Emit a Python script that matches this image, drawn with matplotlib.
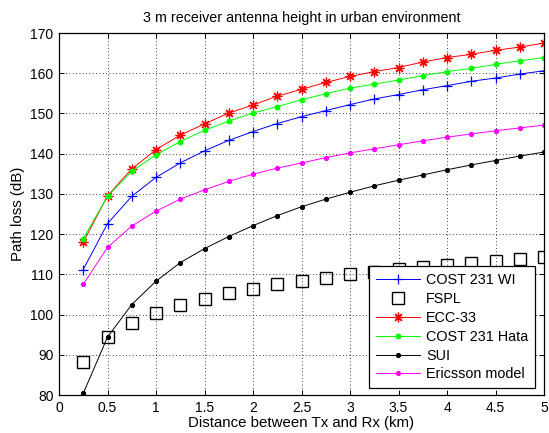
import matplotlib
matplotlib.use("Agg")
import matplotlib.pyplot as plt

plt.rcParams['font.family'] = ['Liberation Sans', 'DejaVu Sans']

distance_km = [0.25, 0.5, 0.75, 1.0, 1.25, 1.5, 1.75, 2.0, 2.25, 2.5,
               2.75, 3.0, 3.25, 3.5, 3.75, 4.0, 4.25, 4.5, 4.75, 5.0]

cost231_wi = [111.2, 122.6, 129.4, 134.1, 137.7, 140.7, 143.3, 145.5, 147.5, 149.2,
              150.7, 152.2, 153.6, 154.7, 155.9, 156.9, 158.0, 158.8, 159.8, 160.6]
fspl = [88.3, 94.4, 97.9, 100.4, 102.3, 103.9, 105.3, 106.4, 107.5, 108.4,
        109.2, 110.0, 110.7, 111.3, 111.9, 112.4, 112.9, 113.4, 113.9, 114.4]
ecc33 = [118.0, 129.5, 136.2, 141.0, 144.6, 147.4, 150.1, 152.1, 154.3, 156.0,
         157.7, 159.2, 160.4, 161.4, 162.8, 163.9, 164.7, 165.7, 166.5, 167.5]
cost231_hata = [118.9, 129.4, 135.6, 139.7, 143.0, 145.8, 148.1, 150.1, 151.7, 153.4,
                154.9, 156.3, 157.3, 158.3, 159.4, 160.4, 161.2, 162.2, 163.1, 163.9]
sui = [80.4, 94.4, 102.5, 108.3, 112.9, 116.4, 119.4, 122.1, 124.6, 126.8,
       128.7, 130.4, 132.0, 133.4, 134.7, 136.0, 137.2, 138.3, 139.4, 140.4]
ericsson = [107.5, 116.7, 122.0, 125.7, 128.7, 131.0, 133.1, 134.9, 136.4, 137.7,
            139.0, 140.2, 141.2, 142.2, 143.2, 144.1, 144.9, 145.7, 146.4, 147.1]

labels = ['COST 231 WI', 'FSPL', 'ECC-33', 'COST 231 Hata', 'SUI', 'Ericsson model']
x_ticks = [0, 0.5, 1, 1.5, 2, 2.5, 3, 3.5, 4, 4.5, 5]
x_tick_labels = ['0', '0.5', '1', '1.5', '2', '2.5', '3', '3.5', '4', '4.5', '5']
y_ticks = [80, 90, 100, 110, 120, 130, 140, 150, 160, 170]

fig = plt.figure(figsize=(5.49, 4.33), dpi=100)
ax = fig.add_axes([59/549, 38/433, 485/549, 362/433])

lw = 0.7
ax.plot(distance_km, cost231_wi, color='#0000ff', marker='+', markersize=7,
        markeredgewidth=0.9, linewidth=lw, label=labels[0])
ax.plot(distance_km, fspl, linestyle='none', marker='s', markersize=8,
        markerfacecolor='none', markeredgecolor='black', markeredgewidth=1.0,
        label=labels[1])
ax.plot(distance_km, ecc33, color='#ff0000', marker=(8, 2, 0), markersize=7,
        markeredgewidth=0.9, linewidth=lw, label=labels[2])
ax.plot(distance_km, cost231_hata, color='#00ff00', marker='.', markersize=6.5,
        linewidth=lw, label=labels[3])
ax.plot(distance_km, sui, color='black', marker='.', markersize=5.5,
        linewidth=lw, label=labels[4])
ax.plot(distance_km, ericsson, color='#ff00ff', marker='.', markersize=5.5,
        linewidth=lw, label=labels[5])

ax.set_xlim(0, 5)
ax.set_ylim(80, 170)
ax.set_xticks(x_ticks)
ax.set_xticklabels(x_tick_labels)
ax.set_yticks(y_ticks)
ax.tick_params(direction='in', length=3.6, width=0.7, top=True, right=True,
               labelsize=10, pad=4)
ax.grid(True, color='black', linestyle=(0, (1, 3)), linewidth=0.6)
for s in ax.spines.values():
    s.set_linewidth(0.9)

ax.set_title('3 m receiver antenna height in urban environment', fontsize=10.3, pad=8)
ax.set_xlabel('Distance between Tx and Rx (km)', fontsize=10.8, labelpad=1)
ax.set_ylabel('Path loss (dB)', fontsize=10.8, labelpad=4)

leg = ax.legend(loc='lower right', bbox_to_anchor=(476/485, 7/362),
                borderaxespad=0, fancybox=False, edgecolor='black',
                framealpha=1, fontsize=10.4, handlelength=3.1, numpoints=1,
                handletextpad=0.4, borderpad=0.45, labelspacing=0.34)
leg.get_frame().set_linewidth(0.9)
leg.set_zorder(5)

fig.savefig('out.png', dpi=100)
